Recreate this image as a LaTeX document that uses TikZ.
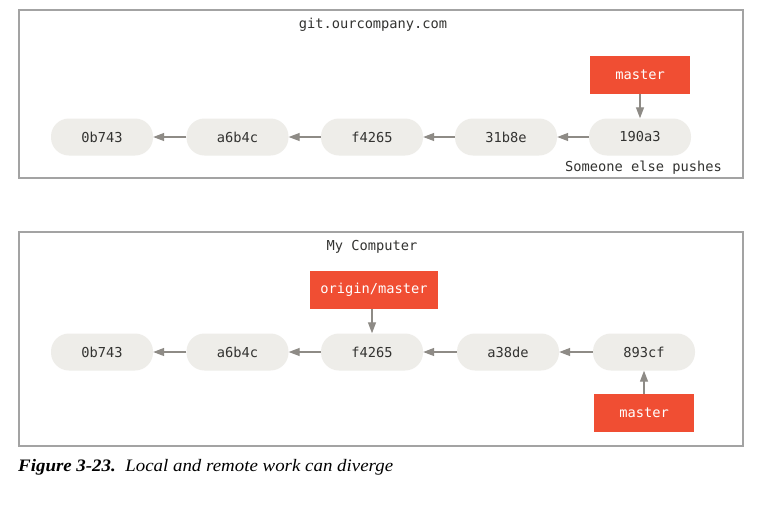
\documentclass[tikz,border=0pt]{standalone}
\usepackage{fontspec}
\setmainfont{Liberation Serif}
\setmonofont{DejaVu Sans Mono}
\usetikzlibrary{arrows.meta}
\definecolor{commitfill}{HTML}{EEEDE9}
\definecolor{commitText}{HTML}{333331}
\definecolor{gitred}{HTML}{F04E33}
\definecolor{arrowgray}{HTML}{8E8B86}
\definecolor{framegray}{HTML}{A3A3A3}
\tikzset{
  commit/.style={fill=commitfill, draw=none, rounded corners=18pt, minimum width=102pt, minimum height=37pt, inner sep=0pt, text=commitText, font=\ttfamily\fontsize{13.7}{15}\selectfont},
  branch/.style={fill=gitred, draw=none, minimum height=38pt, inner sep=0pt, text=white, font=\ttfamily\fontsize{13.7}{15}\selectfont},
  conn/.style={draw=arrowgray, line width=1.3pt, -{Triangle[length=11pt,width=8pt]}},
  frame/.style={draw=framegray, line width=1.3pt},
  label/.style={text=commitText, font=\ttfamily\fontsize{13.7}{15}\selectfont, inner sep=0pt}
}
\begin{document}
\begin{tikzpicture}[x=1pt,y=-1pt]
\useasboundingbox[fill=white] (0,0) rectangle (762,506);
% top frame
\draw[frame] (19,10) rectangle (743,178);
\node[label] (srv) at (373,25) {git.ourcompany.com};
\node[commit] (t1) at (102,137) {0b743};
\node[commit] (t2) at (237.5,137) {a6b4c};
\node[commit] (t3) at (372,137) {f4265};
\node[commit] (t4) at (506,137) {31b8e};
\node[commit] (t5) at (640,137) {190a3};
\node[branch, minimum width=100pt] (tm) at (640,75) {master};
\node[label, anchor=east] (push) at (722,168) {Someone else pushes};
\draw[conn] (t2) -- (t1);
\draw[conn] (t3) -- (t2);
\draw[conn] (t4) -- (t3);
\draw[conn] (t5) -- (t4);
\draw[conn] (tm) -- (t5);
% bottom frame
\draw[frame] (19,232) rectangle (743,446);
\node[label] (pc) at (372,247) {My Computer};
\node[commit] (b1) at (102,352) {0b743};
\node[commit] (b2) at (237.5,352) {a6b4c};
\node[commit] (b3) at (372,352) {f4265};
\node[commit] (b4) at (508,352) {a38de};
\node[commit] (b5) at (644,352) {893cf};
\node[branch, minimum width=128pt] (om) at (374,290) {origin/master};
\node[branch, minimum width=100pt] (bm) at (644,413) {master};
\draw[conn] (b2) -- (b1);
\draw[conn] (b3) -- (b2);
\draw[conn] (b4) -- (b3);
\draw[conn] (b5) -- (b4);
\draw[conn] (om.south -| b3) -- (b3);
\draw[conn] (bm) -- (b5);
% caption
\node[anchor=base west, inner sep=0pt, font=\fontsize{17.5}{20}\selectfont] (cap) at (18,471.5) {\scalebox{1.08}[1]{\textbf{\textit{Figure 3-23.}}\ \ \textit{Local and remote work can diverge}}};
\end{tikzpicture}
\end{document}
